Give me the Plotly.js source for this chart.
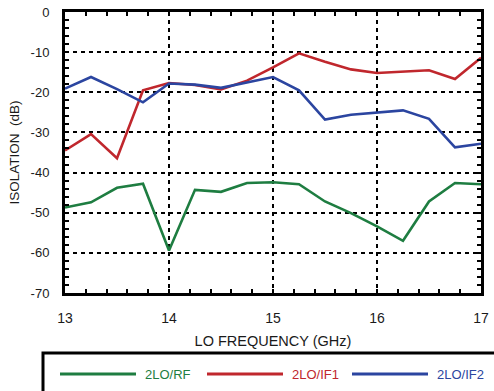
<!DOCTYPE html>
<html>
<head>
<meta charset="utf-8">
<script src="https://cdn.plot.ly/plotly-3.0.1.min.js"></script>
<style>html,body{margin:0;padding:0;background:#fff;}#chart{width:494px;height:391px;}</style>
</head>
<body>
<div id="chart"></div>
<script>
// LO frequency (GHz)
var freq = [13, 13.25, 13.5, 13.75, 14, 14.25, 14.5, 14.75, 15, 15.25, 15.5, 15.75, 16, 16.25, 16.5, 16.75, 17];
// Isolation (dB)
var lo2rf  = [-48.7, -47.4, -43.8, -42.8, -59.4, -44.3, -44.8, -42.6, -42.4, -42.9, -47.2, -50.1, -53.4, -57.0, -47.2, -42.6, -42.9];
var lo2if1 = [-34.5, -30.4, -36.4, -19.5, -17.7, -18.2, -19.3, -17.1, -13.8, -10.3, -12.4, -14.3, -15.2, -14.8, -14.5, -16.7, -11.4];
var lo2if2 = [-19.1, -16.2, -19.2, -22.5, -17.8, -18.1, -18.9, -17.5, -16.2, -19.5, -26.8, -25.6, -25.1, -24.5, -26.6, -33.7, -32.8];
var seriesNames = ['2LO/RF', '2LO/IF1', '2LO/IF2'];
var seriesColors = ['#1e7d41', '#c0272d', '#2b45a0'];
var xTicks = [13, 14, 15, 16, 17];
var yTicks = [0, -10, -20, -30, -40, -50, -60, -70];

var W = 494, H = 391;
var M = {l: 65, r: 13, t: 12, b: 98};
var pw = W - M.l - M.r, ph = H - M.t - M.b;
function px2x(p) { return (p - M.l) / pw; }
function py2y(p) { return (H - M.b - p) / ph; }

var ys = [lo2rf, lo2if1, lo2if2];
var traces = ys.map(function (y, i) {
  return {
    x: freq, y: y, type: 'scatter', mode: 'lines',
    name: seriesNames[i],
    line: {color: seriesColors[i], width: 2.6}
  };
});

var fam = '"Liberation Sans", Arial, Helvetica, sans-serif';
var txt = '#1a1a1a';

// legend (drawn as a boxed key below the chart)
var legStart = [60, 207, 352], legLen = 76, legY = 374;
var shapes = [{
  type: 'rect', xref: 'paper', yref: 'paper',
  x0: px2x(43), x1: px2x(520), y0: py2y(353), y1: py2y(420),
  line: {color: '#000', width: 3}, fillcolor: 'rgba(0,0,0,0)', layer: 'above'
}];
var annotations = [];
seriesNames.forEach(function (n, i) {
  shapes.push({
    type: 'line', xref: 'paper', yref: 'paper',
    x0: px2x(legStart[i]), x1: px2x(legStart[i] + legLen), y0: py2y(legY), y1: py2y(legY),
    line: {color: seriesColors[i], width: 3.2}
  });
  annotations.push({
    xref: 'paper', yref: 'paper', x: px2x(legStart[i] + legLen + 7), y: py2y(legY),
    xanchor: 'left', yanchor: 'middle', showarrow: false, text: n,
    font: {family: fam, size: 13, color: seriesColors[i]}
  });
});

var layout = {
  width: W, height: H,
  margin: {l: M.l, r: M.r, t: M.t, b: M.b, autoexpand: false},
  paper_bgcolor: '#fff', plot_bgcolor: '#fff',
  font: {family: fam, color: txt},
  showlegend: false,
  xaxis: {
    range: [13, 17], tickvals: xTicks, ticktext: xTicks.map(String),
    showline: true, linecolor: '#000', linewidth: 3, mirror: 'allticks',
    ticks: 'inside', ticklen: 4, tickwidth: 2, tickcolor: '#000',
    minor: {dtick: 0.2, tick0: 13, ticks: 'inside', ticklen: 4, tickwidth: 2, tickcolor: '#000', showgrid: false},
    showgrid: true, gridcolor: '#000', gridwidth: 2, griddash: '4px,4px',
    zeroline: false,
    tickfont: {family: fam, size: 14, color: txt},
    ticklabelstandoff: 10,
    title: {text: 'LO FREQUENCY (GHz)', font: {family: fam, size: 14.5, color: txt}, standoff: 12}
  },
  yaxis: {
    range: [-70, 0], tickvals: yTicks, ticktext: yTicks.map(String),
    showline: true, linecolor: '#000', linewidth: 3, mirror: 'allticks',
    ticks: 'inside', ticklen: 4, tickwidth: 2, tickcolor: '#000',
    minor: {dtick: 2, tick0: 0, ticks: 'inside', ticklen: 4, tickwidth: 2, tickcolor: '#000', showgrid: false},
    showgrid: true, gridcolor: '#000', gridwidth: 2, griddash: '4px,4px',
    zeroline: false,
    tickfont: {family: fam, size: 13, color: txt},
    ticklabelstandoff: 10,
    title: {text: 'ISOLATION&nbsp;&nbsp;(dB)', font: {family: fam, size: 13.5, color: txt}, standoff: 8}
  },
  shapes: shapes,
  annotations: annotations
};

Plotly.newPlot('chart', traces, layout, {displayModeBar: false, staticPlot: true});
</script>
</body>
</html>
